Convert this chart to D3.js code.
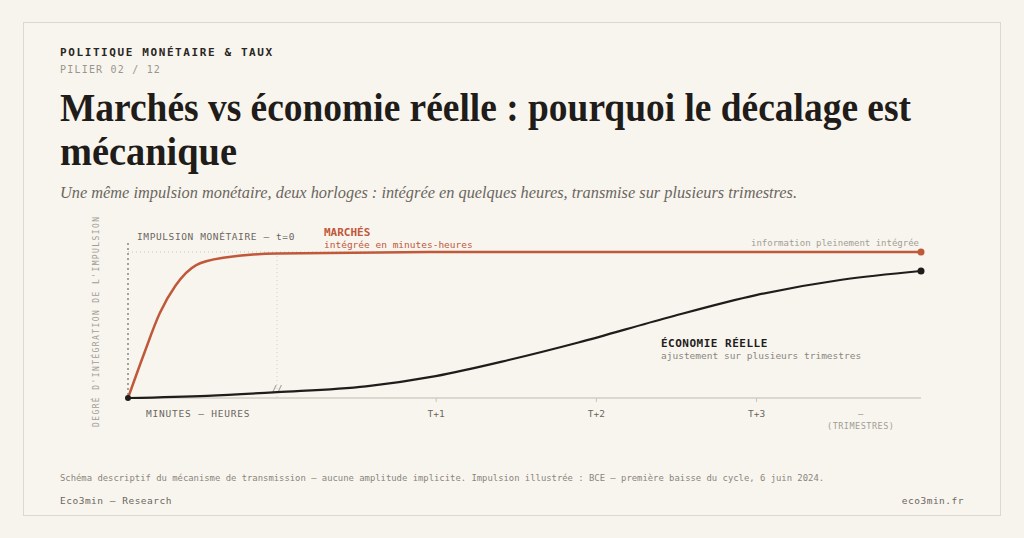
<!DOCTYPE html><html><head><meta charset="utf-8"><script src="https://cdn.jsdelivr.net/npm/d3@7"></script>
<style>body{margin:0;background:#fff}svg{display:block}</style></head><body><svg id="c" width="1024" height="538"></svg>
<script>
const marketX=[0,2,4,6,8.6,12,18.8,40,100];
const marketY=[0,0.3,0.58,0.77,0.91,0.96,0.99,1,1];
const ecoX=[0,10,18.8,30,38.8,48,56.8,68,79.2,90,100];
const ecoY=[0,0.015,0.04,0.08,0.15,0.26,0.38,0.55,0.705,0.81,0.87];
const tickPos=[38.8,59,79.2];
const tickLabels=["T+1","T+2","T+3"];
const breakPos=18.8;
const svg=d3.select("#c");
const mono="'DejaVu Sans Mono',monospace", serif="'Liberation Serif',serif";
svg.append("rect").attr("width",1024).attr("height",538).attr("fill","#f7f4ee");
svg.append("rect").attr("x",23.5).attr("y",22.5).attr("width",977).attr("height",493).attr("fill","#f8f5ef").attr("stroke","#dcd8cf");
const t=(x,y,s,o)=>{const e=svg.append("text").attr("x",x).attr("y",y).text(s);for(const k in o)e.attr(k,o[k]);return e;};
t(60,56,"POLITIQUE MONÉTAIRE & TAUX",{"font-family":mono,"font-size":11,"font-weight":"bold","letter-spacing":1.6,fill:"#2a2622"});
t(60,73,"PILIER 02 / 12",{"font-family":mono,"font-size":10,"letter-spacing":1.2,fill:"#9a958c"});
t(60,121,"Marchés vs économie réelle : pourquoi le décalage est",{"font-family":serif,"font-size":39,"font-weight":"bold",fill:"#1f1c19",textLength:851,lengthAdjust:"spacingAndGlyphs"});
t(60,165,"mécanique",{"font-family":serif,"font-size":39,"font-weight":"bold",fill:"#1f1c19",textLength:177,lengthAdjust:"spacingAndGlyphs"});
t(60,198,"Une même impulsion monétaire, deux horloges : intégrée en quelques heures, transmise sur plusieurs trimestres.",{"font-family":serif,"font-style":"italic","font-size":16,fill:"#6b665e",textLength:737,lengthAdjust:"spacingAndGlyphs"});
const x=d3.scaleLinear().domain([0,100]).range([128,921]);
const y=d3.scaleLinear().domain([0,1]).range([398,252]);
const red="#c0583a", dark="#1f1d1b";
svg.append("line").attr("x1",x(0)).attr("x2",x(100)).attr("y1",y(0)).attr("y2",y(0)).attr("stroke","#d2cec6").attr("stroke-width",1.5);
const ax=d3.axisBottom(x).tickValues(tickPos).tickFormat((d,i)=>tickLabels[i]).tickSize(4).tickPadding(8);
const g=svg.append("g").attr("transform",`translate(0,${y(0)})`).call(ax);
g.select(".domain").remove();
g.selectAll("line").attr("stroke","#c9c5bc");
g.selectAll("text").attr("font-family",mono).attr("font-size",9.5).attr("fill","#6b665e");
t(x(92.4),417,"–",{"font-family":mono,"font-size":9,fill:"#9a958c","text-anchor":"middle"});
t(x(92.4),429,"(TRIMESTRES)",{"font-family":mono,"font-size":8.5,fill:"#a29d94","text-anchor":"middle","letter-spacing":0.5});
t(146,417,"MINUTES — HEURES",{"font-family":mono,"font-size":9.5,fill:"#6b665e","letter-spacing":0.8});
svg.append("line").attr("x1",x(0)).attr("x2",x(0)).attr("y1",243).attr("y2",y(0)).attr("stroke","#8a857c").attr("stroke-dasharray","2,3").attr("stroke-width",1.5);
svg.append("line").attr("x1",x(0)).attr("x2",x(100)).attr("y1",y(1)).attr("y2",y(1)).attr("stroke","#c9c5bc").attr("stroke-dasharray","1,3");
svg.append("line").attr("x1",x(breakPos)).attr("x2",x(breakPos)).attr("y1",y(1)).attr("y2",y(0)).attr("stroke","#d2cec6").attr("stroke-dasharray","1,3");
t(x(breakPos),392,"//",{"font-family":mono,"font-size":9,fill:"#8a857c","text-anchor":"middle"});
t(137,240,"IMPULSION MONÉTAIRE — t=0",{"font-family":mono,"font-size":9.5,fill:"#6b665e","letter-spacing":0.6});
t(99,427,"DEGRÉ D'INTÉGRATION DE L'IMPULSION",{"font-family":mono,"font-size":8,fill:"#a29d94","letter-spacing":1.4,transform:"rotate(-90 99 427)"});
const line=d3.line().curve(d3.curveMonotoneX);
svg.append("path").attr("d",line(marketX.map((d,i)=>[x(d),y(marketY[i])]))).attr("fill","none").attr("stroke",red).attr("stroke-width",2.5);
svg.append("path").attr("d",line(ecoX.map((d,i)=>[x(d),y(ecoY[i])]))).attr("fill","none").attr("stroke",dark).attr("stroke-width",2.2);
svg.append("circle").attr("cx",x(100)).attr("cy",y(marketY[marketY.length-1])).attr("r",3.5).attr("fill",red);
svg.append("circle").attr("cx",x(100)).attr("cy",y(ecoY[ecoY.length-1])).attr("r",3.5).attr("fill",dark);
svg.append("circle").attr("cx",x(0)).attr("cy",y(0)).attr("r",3).attr("fill",dark);
t(324,236,"MARCHÉS",{"font-family":mono,"font-size":11,"font-weight":"bold",fill:red});
t(324,248,"intégrée en minutes-heures",{"font-family":mono,"font-size":9.5,fill:red});
t(919,246,"information pleinement intégrée",{"font-family":mono,"font-size":9,fill:"#a29d94","text-anchor":"end"});
t(661,347,"ÉCONOMIE RÉELLE",{"font-family":mono,"font-size":11,"font-weight":"bold",fill:dark,"letter-spacing":0.5});
t(661,359,"ajustement sur plusieurs trimestres",{"font-family":mono,"font-size":9.5,fill:"#8a857c"});
t(60,481,"Schéma descriptif du mécanisme de transmission — aucune amplitude implicite. Impulsion illustrée : BCE — première baisse du cycle, 6 juin 2024.",{"font-family":mono,"font-size":8.9,fill:"#8a857c"});
t(60,504,"Eco3min — Research",{"font-family":mono,"font-size":9.5,fill:"#6b665e","letter-spacing":0.5});
t(964,504,"eco3min.fr",{"font-family":mono,"font-size":9.5,fill:"#6b665e","text-anchor":"end","letter-spacing":0.5});
</script></body></html>
